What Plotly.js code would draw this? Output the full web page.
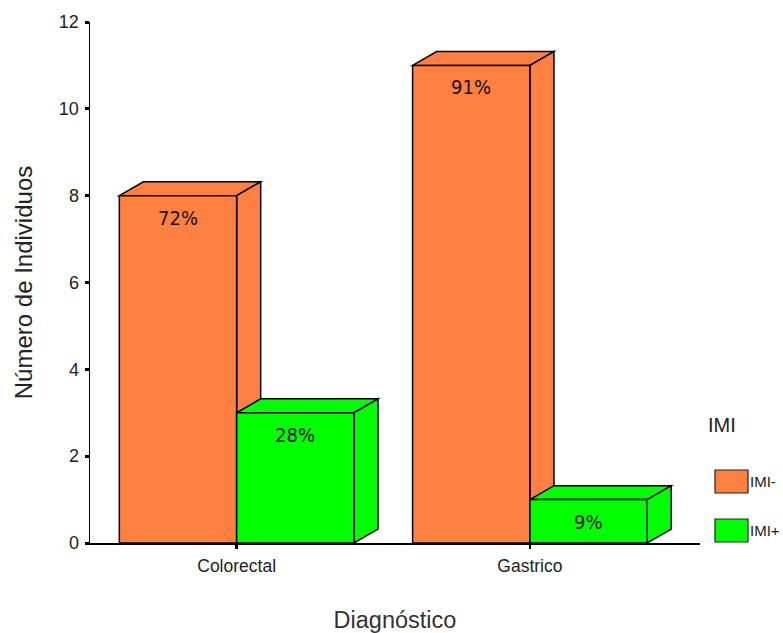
<!DOCTYPE html>
<html>
<head>
<meta charset="utf-8">
<script src="https://cdn.plot.ly/plotly-3.0.1.min.js"></script>
<style>
  html, body { margin: 0; padding: 0; background: #ffffff; }
  #chart { width: 783px; height: 633px; }
</style>
</head>
<body>
<div id="chart"></div>
<script>
// Diagnosis categories and counts per IMI group
const categories = ['Colorectal', 'Gastrico'];
const seriesNames = ['IMI-', 'IMI+'];
const imiNeg = [8, 11];
const imiPos = [3, 1];
const pctNeg = ['72%', '91%'];
const pctPos = ['28%', '9%'];
const seriesColors = ['#FF8040', '#00FF00'];

const seriesValues = [imiNeg, imiPos];
const seriesPct = [pctNeg, pctPos];
const xIdx = categories.map((c, i) => i);

// grouped-bar geometry (matches layout.bargap)
const bargap = 0.2;
const barW = (1 - bargap) / seriesValues.length;
// depth of the pseudo-3D extrusion, in axis units
const depthX = 0.082;
const depthY = 0.32;

const edge = { color: '#000000', width: 1.5 };

const traces = seriesValues.map((vals, s) => ({
  type: 'bar',
  name: seriesNames[s],
  x: xIdx,
  y: vals,
  marker: { color: seriesColors[s], line: edge },
  showlegend: false,
  hoverinfo: 'y+name'
}));

// top and side faces of each bar, drawn under the bar fronts
const shapes = [];
seriesValues.forEach((vals, s) => {
  vals.forEach((v, i) => {
    const x0 = i - (1 - bargap) / 2 + s * barW;
    const x1 = x0 + barW;
    const top = `M${x0},${v} L${x0 + depthX},${v + depthY} L${x1 + depthX},${v + depthY} L${x1},${v} Z`;
    const side = `M${x1},0 L${x1},${v} L${x1 + depthX},${v + depthY} L${x1 + depthX},${depthY} Z`;
    [top, side].forEach(p => shapes.push({
      type: 'path', xref: 'x', yref: 'y', path: p,
      fillcolor: seriesColors[s], line: edge, layer: 'below'
    }));
  });
});

// percentage labels near the top of each bar front
const annotations = [];
seriesValues.forEach((vals, s) => {
  vals.forEach((v, i) => {
    annotations.push({
      x: i - (1 - bargap) / 2 + s * barW + barW / 2,
      y: v, xref: 'x', yref: 'y',
      text: seriesPct[s][i], showarrow: false, yshift: -22,
      font: { family: 'DejaVu Sans Condensed, Liberation Sans Narrow, Liberation Sans', size: 20, color: '#111111' }
    });
  });
});

// legend block at the right
const plotL = 90, plotR = 700, plotT = 22, plotB = 543;
const px = v => (v - plotL) / (plotR - plotL);
const py = v => (plotB - v) / (plotB - plotT);

annotations.push({
  xref: 'paper', yref: 'paper', x: px(706), y: py(425),
  xanchor: 'left', yanchor: 'middle', showarrow: false, text: 'IMI',
  font: { family: 'Liberation Sans, Arial, sans-serif', size: 20, color: '#222222' }
});
seriesNames.forEach((n, s) => {
  const top = 470 + s * 49;
  shapes.push({
    type: 'rect', xref: 'paper', yref: 'paper',
    x0: px(715), x1: px(748), y0: py(top + 23), y1: py(top),
    fillcolor: seriesColors[s], line: { color: '#222222', width: 1.2 }, layer: 'above'
  });
  annotations.push({
    xref: 'paper', yref: 'paper', x: px(748), y: py(top + 11),
    xanchor: 'left', yanchor: 'middle', showarrow: false, text: n,
    font: { family: 'Liberation Sans, Arial, sans-serif', size: 15, color: '#222222' }
  });
});

const layout = {
  width: 783, height: 633,
  margin: { l: plotL, r: 783 - plotR, t: plotT, b: 633 - plotB, pad: 0 },
  paper_bgcolor: '#ffffff', plot_bgcolor: '#ffffff',
  barmode: 'group', bargap: bargap, bargroupgap: 0,
  showlegend: false,
  font: { family: 'Liberation Sans, Arial, sans-serif', color: '#222222' },
  xaxis: {
    type: 'linear', range: [-0.5, 1.58],
    tickvals: xIdx, ticktext: categories,
    showline: true, linecolor: '#000000', linewidth: 1.5,
    ticks: 'outside', ticklen: 4, tickwidth: 2.5, tickcolor: '#000000',
    ticklabelstandoff: 2,
    showgrid: false, zeroline: false,
    tickfont: { size: 17.5, color: '#222222' },
    title: { text: 'Diagnóstico', font: { size: 23.5, color: '#333333' }, standoff: 37 }
  },
  yaxis: {
    range: [0, 12], dtick: 2,
    showline: true, linecolor: '#000000', linewidth: 1.5,
    ticks: 'outside', ticklen: 4, tickwidth: 3, tickcolor: '#000000',
    ticklabelstandoff: 2,
    showgrid: false, zeroline: false,
    tickfont: { size: 18, color: '#222222' },
    title: { text: 'Número de Individuos', font: { size: 24, color: '#222222' }, standoff: 19 }
  },
  shapes: shapes,
  annotations: annotations
};

Plotly.newPlot('chart', traces, layout, { displayModeBar: false, staticPlot: true });
</script>
</body>
</html>
